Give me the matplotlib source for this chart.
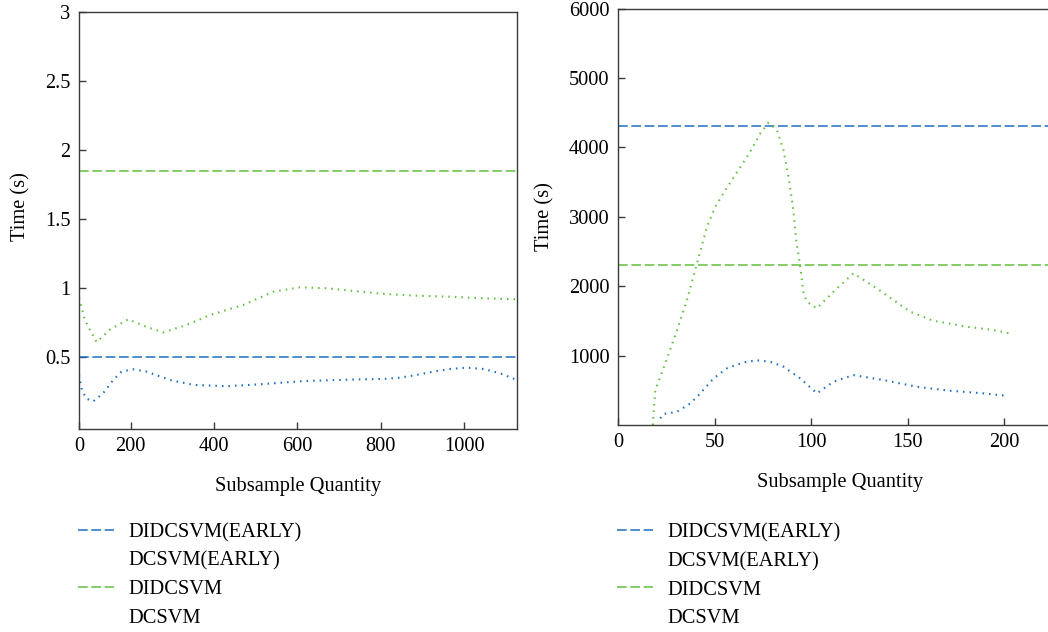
import numpy as np
import matplotlib
matplotlib.use("Agg")
import matplotlib.pyplot as plt
from matplotlib.lines import Line2D

plt.rcParams['font.family'] = ['Liberation Serif', 'DejaVu Serif']
plt.rcParams['font.size'] = 14.7
plt.rcParams['lines.scale_dashes'] = False

# ####################################################################
# data

# left panel
left_xlim = (76, 1126)
left_xticks = [76, 200, 400, 600, 800, 1000]
left_xticklabels = ['0', '200', '400', '600', '800', '1000']
left_yticks = [0.5, 1, 1.5, 2, 2.5, 3]
left_yticklabels = ['0.5', '1', '1.5', '2', '2.5', '3']

left_didcsvm_early = 0.505
left_didcsvm = 1.85

left_x_dcsvm = [76, 90, 102, 118, 150, 194, 238, 278, 334, 390, 470, 542, 606,
                670, 726, 806, 886, 966, 1046, 1114, 1126]
left_dcsvm = [0.93, 0.77, 0.70, 0.61, 0.70, 0.775, 0.72, 0.68, 0.734, 0.806, 0.879,
              0.975, 1.007, 1.0, 0.983, 0.959, 0.946, 0.939, 0.927, 0.922, 0.92]

left_x_dcsvm_early = [76, 83, 94, 110, 134, 158, 178, 206, 238, 294, 350, 430, 510,
                      618, 726, 806, 846, 886, 926, 966, 1006, 1046, 1086, 1122]
left_dcsvm_early = [0.37, 0.26, 0.20, 0.18, 0.24, 0.335, 0.396, 0.413, 0.396, 0.335,
                    0.30, 0.29, 0.304, 0.328, 0.338, 0.343, 0.352, 0.372, 0.396,
                    0.415, 0.425, 0.415, 0.384, 0.34]

# right panel
right_xlim = (0, 230)
right_xticks = [0, 50, 100, 150, 200]
right_yticks = [1000, 2000, 3000, 4000, 5000, 6000]

right_didcsvm_early = 4310
right_didcsvm = 2310

right_x_dcsvm = [18, 19.3, 24.5, 30.6, 35.7, 40.9, 46.1, 50.4, 55.6, 62.4, 68.5, 73.7,
                 78, 82.3, 85.7, 88.3, 90.6, 92.3, 94.4, 96.1, 97.8, 103, 111.6,
                 121.9, 134, 151.3, 163.3, 180.6, 194.4, 204.7]
right_dcsvm = [0, 504, 889, 1369, 1801, 2330, 2858, 3146, 3386, 3675, 3938, 4203,
               4356, 4251, 3963, 3578, 3146, 2666, 2281, 1898, 1777, 1681, 1921,
               2186, 1970, 1633, 1503, 1417, 1369, 1311]

right_x_dcsvm_early = [21.9, 23.6, 30.6, 37.5, 42.6, 49.5, 56.4, 65, 72, 78.8, 85.7,
                       94.4, 103, 111.6, 121.9, 137.5, 154.7, 172, 189.2, 201.3]
right_dcsvm_early = [96, 158, 192, 312, 456, 672, 817, 903, 932, 913, 841, 672, 456,
                     624, 720, 648, 552, 494, 456, 422]

labels = ['DIDCSVM(EARLY)', 'DCSVM(EARLY)', 'DIDCSVM', 'DCSVM']

# ####################################################################

blue = '#1b6fbf'
green = '#62c03c'
spine_col = '#3a3a3a'
dash = (7, 2.6)
dot = (1.1, 3.6)

fig = plt.figure(figsize=(10.48, 6.32), dpi=100)
ax1 = fig.add_axes([0.0754, 0.3212, 0.4177, 0.6593])
ax2 = fig.add_axes([0.5897, 0.3275, 0.4237, 0.6587])


def style(ax, pad):
    for s in ax.spines.values():
        s.set_color(spine_col)
        s.set_linewidth(1.0)
    ax.tick_params(direction='in', length=5, width=1, color=spine_col,
                   top=False, right=False, labelsize=14.7, pad=6)
    ax.set_xlabel('Subsample Quantity', labelpad=pad)
    ax.set_ylabel('Time (s)')


def draw(ax, x_early, y_early, x_dc, y_dc, h_early, h_di, leg_y):
    l1 = ax.axhline(h_early, color=blue, lw=1.1, dashes=dash)
    ax.plot(x_early, y_early, color=blue, lw=1.5, dashes=dot)
    l3 = ax.axhline(h_di, color=green, lw=1.1, dashes=dash)
    ax.plot(x_dc, y_dc, color=green, lw=1.5, dashes=dot)
    blank = Line2D([], [], color='none')
    ax.legend([l1, blank, l3, blank], labels, loc='upper left',
              bbox_to_anchor=(-0.002, leg_y), frameon=False, borderpad=0,
              borderaxespad=0, handlelength=1.75, handletextpad=0.72,
              labelspacing=0.45, fontsize=14.7)


draw(ax1, left_x_dcsvm_early, left_dcsvm_early, left_x_dcsvm, left_dcsvm,
     left_didcsvm_early, left_didcsvm, -0.226)
ax1.set_xlim(*left_xlim)
ax1.set_ylim(-0.02, 3)
ax1.set_xticks(left_xticks)
ax1.set_xticklabels(left_xticklabels)
ax1.set_yticks(left_yticks)
ax1.set_yticklabels(left_yticklabels)
style(ax1, 15)
ax1.yaxis.set_label_coords(-0.112, 0.533)

draw(ax2, right_x_dcsvm_early, right_dcsvm_early, right_x_dcsvm, right_dcsvm,
     right_didcsvm_early, right_didcsvm, -0.236)
ax2.set_xlim(*right_xlim)
ax2.set_ylim(0, 6000)
ax2.set_xticks(right_xticks)
ax2.set_yticks(right_yticks)
style(ax2, 15)
ax2.yaxis.set_label_coords(-0.144, 0.50)

plt.savefig("out.png", dpi=100)
